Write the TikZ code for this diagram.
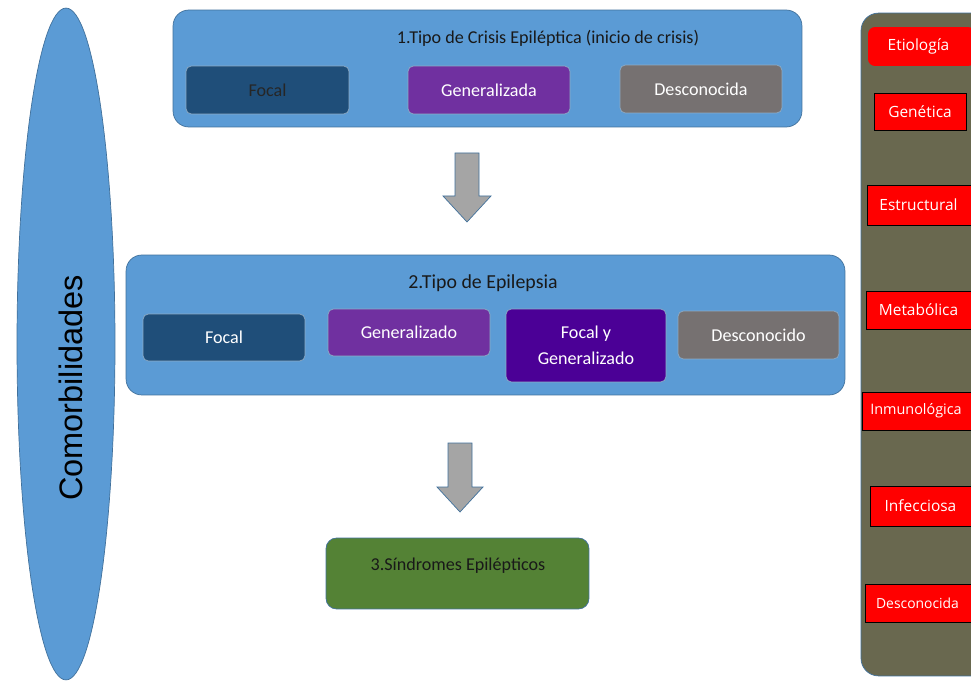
\documentclass[tikz,border=0pt]{standalone}
\usepackage{fontspec}
\setmainfont{Carlito}
\newfontfamily\arialfont{Liberation Sans}
\newfontfamily\etiofont{Open Sans}
\usepackage{tikz}
\usetikzlibrary{arrows.meta,shapes.geometric,positioning}
\definecolor{boxblue}{HTML}{5B9BD5}
\definecolor{lineblue}{HTML}{41719C}
\definecolor{navy}{HTML}{1F4E79}
\definecolor{violet}{HTML}{7030A0}
\definecolor{deepviolet}{HTML}{4B0096}
\definecolor{stonegray}{HTML}{767171}
\definecolor{leafgreen}{HTML}{548235}
\definecolor{olivegray}{HTML}{69684F}
\definecolor{arrowgray}{HTML}{A5A5A5}

\begin{document}
\begin{tikzpicture}[
  x=0.02cm, y=-0.02cm,
  font=\fontsize{10.3}{12}\selectfont,
  stage/.style={draw=lineblue, fill=boxblue, rounded corners=9pt, inner sep=0pt},
  kind/.style={draw=lineblue!60, rounded corners=3pt, text=white, align=center, inner sep=0pt,
    minimum width=3.24cm, minimum height=0.96cm},
  cause/.style={draw=black, fill=red, text=white, inner sep=0pt, minimum height=0.76cm,
    font=\etiofont\fontsize{8.8}{10}\selectfont},
  blockarrow/.style={draw=lineblue, fill=arrowgray, line join=miter},
  heading/.style={text=black!90}
]
\useasboundingbox (0,0) rectangle (971,682);
\clip (0,0) rectangle (971,682);
\fill[white] (0,0) rectangle (971,682);

% comorbilidades
\node[ellipse, draw=lineblue, fill=boxblue, minimum width=1.96cm, minimum height=13.44cm, inner sep=0pt]
  (comorb) at (66,344) {};
\node[rotate=90, font=\arialfont\fontsize{18.5}{20}\selectfont] (comorbtxt) at (71,388) {Comorbilidades};

% 1. tipo de crisis
\node[stage, minimum width=12.58cm, minimum height=2.34cm] (crisis) at (487.5,68.5) {};
\node[heading] (crisistitle) at (548,38) {1.Tipo de Crisis Epiléptica (inicio de crisis)};
\node[kind, fill=navy, text=black!85, minimum width=3.26cm] (cfocal) at (267.5,90) {Focal};
\node[kind, fill=violet] (cgen) at (489,90) {Generalizada};
\node[kind, fill=stonegray] (cdesc) at (701,89) {Desconocida};

\draw[blockarrow] (455,153) -- (479,153) -- (479,196) -- (491,196) -- (467,222) -- (443,196) -- (455,196) -- cycle;

% 2. tipo de epilepsia
\node[stage, minimum width=14.38cm, minimum height=2.8cm] (epil) at (485.5,325) {};
\node[heading, font=\fontsize{11.3}{13}\selectfont] (epiltitle) at (483,283) {2.Tipo de Epilepsia};
\node[kind, fill=navy, minimum height=0.94cm] (efocal) at (224,337.5) {Focal};
\node[kind, fill=violet, minimum height=0.94cm] (egen) at (409,332.5) {Generalizado};
\node[kind, fill=deepviolet, minimum width=3.2cm, minimum height=1.46cm, font=\fontsize{10.3}{15}\selectfont]
  (efg) at (586,345.5) {Focal y\\Generalizado};
\node[kind, fill=stonegray, minimum width=3.22cm] (edesc) at (758.5,335) {Desconocido};

\draw[blockarrow] (448,443) -- (472,443) -- (472,487) -- (483,487) -- (460,512) -- (437,487) -- (448,487) -- cycle;

% 3. sindromes
\node[stage, fill=leafgreen, rounded corners=6pt, minimum width=5.26cm, minimum height=1.42cm] (sind) at (457.5,573.5) {};
\node[heading] (sindtitle) at (458,566) {3.Síndromes Epilépticos};

% etiologia
\node[draw=lineblue, fill=olivegray, rounded corners=10pt, minimum width=2.6cm, minimum height=13.26cm, inner sep=0pt]
  (etio) at (926,344.5) {};
\node[cause, draw=none, rounded corners=4pt, minimum width=2.14cm, minimum height=0.78cm] (etiohead) at (921.5,46.5) {\hspace*{-0.12cm}Etiología};
\node[cause, minimum width=1.84cm, minimum height=0.74cm] (genet) at (920,111.5) {Genética};
\node[cause, minimum width=2.16cm, minimum height=0.8cm] (estruct) at (921,205) {\hspace*{-0.1cm}Estructural};
\node[cause, minimum width=2.18cm] (metab) at (920.5,310) {\hspace*{-0.08cm}Metabólica};
\node[cause, minimum width=2.26cm, font=\etiofont\fontsize{8.2}{9}\selectfont] (inmun) at (918.5,411) {\hspace*{-0.1cm}Inmunológica};
\node[cause, minimum width=2.02cm, minimum height=0.8cm] (infec) at (920.5,506) {Infecciosa};
\node[cause, minimum width=2.2cm, font=\etiofont\fontsize{7.9}{9}\selectfont] (desco) at (920,603) {\hspace*{-0.1cm}Desconocida};
\end{tikzpicture}
\end{document}
